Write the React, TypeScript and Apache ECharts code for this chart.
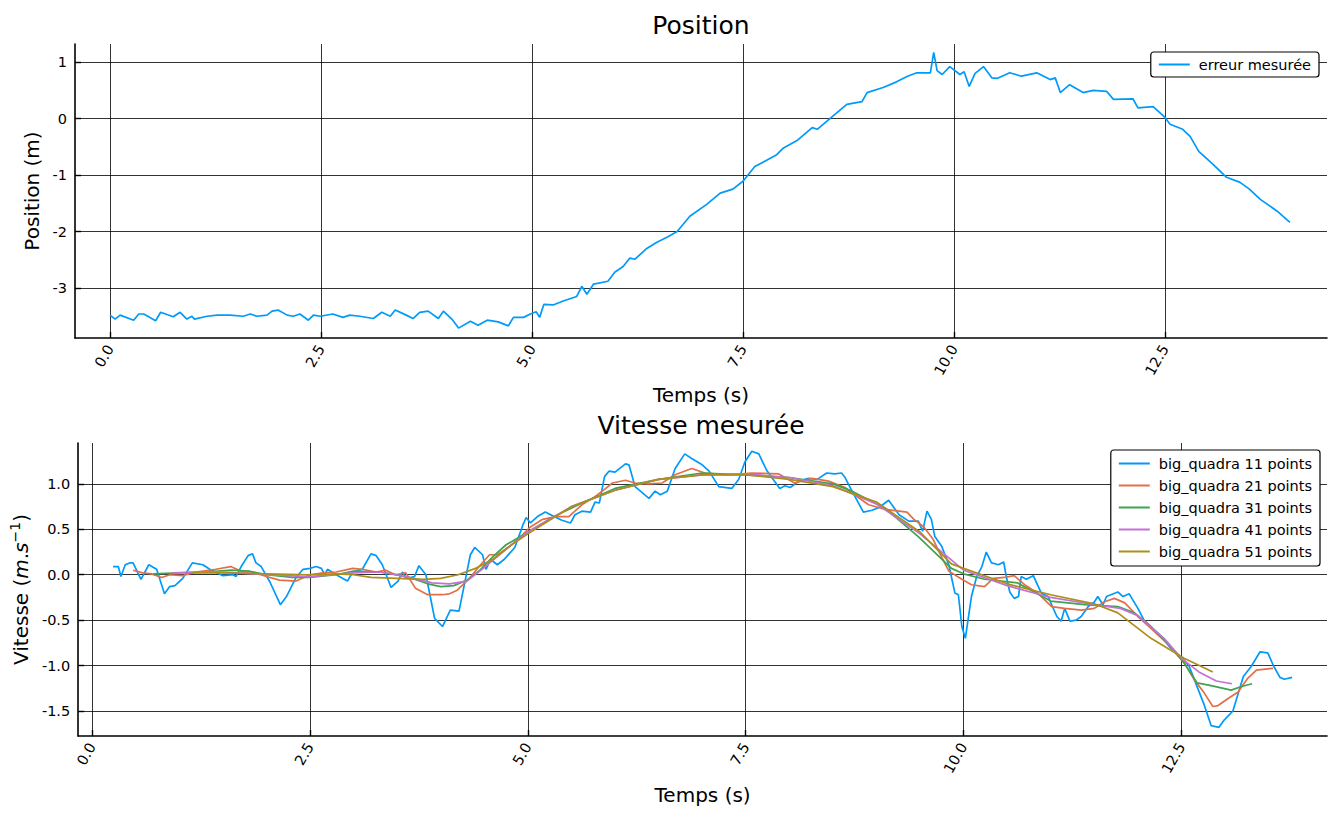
import React, { useEffect, useRef } from "react";
import * as echarts from "echarts";

const FONT = "DejaVu Sans";

const position: [number, number][] = [
  [0,-3.48],[0.06,-3.55],[0.12,-3.48],[0.28,-3.57],[0.34,-3.46],[0.4,-3.46],[0.54,-3.58],[0.6,-3.43],[0.75,-3.51],[0.83,-3.43],[0.91,-3.55],[0.97,-3.5],[1.0,-3.55],[1.15,-3.5],[1.27,-3.48],[1.42,-3.48],[1.58,-3.5],[1.66,-3.46],[1.74,-3.5],[1.86,-3.48],[1.92,-3.41],[1.99,-3.39],[2.1,-3.48],[2.17,-3.5],[2.25,-3.46],[2.35,-3.57],[2.41,-3.48],[2.49,-3.5],[2.64,-3.46],[2.76,-3.52],[2.84,-3.48],[2.96,-3.5],[3.12,-3.54],[3.22,-3.43],[3.32,-3.5],[3.38,-3.39],[3.51,-3.48],[3.59,-3.54],[3.67,-3.43],[3.77,-3.41],[3.89,-3.54],[3.95,-3.41],[4.05,-3.55],[4.13,-3.71],[4.27,-3.59],[4.36,-3.66],[4.47,-3.57],[4.6,-3.6],[4.72,-3.67],[4.78,-3.52],[4.9,-3.52],[4.98,-3.46],[5.05,-3.42],[5.09,-3.52],[5.14,-3.29],[5.25,-3.3],[5.37,-3.23],[5.53,-3.15],[5.59,-2.97],[5.65,-3.11],[5.73,-2.93],[5.9,-2.88],[5.98,-2.72],[6.08,-2.62],[6.16,-2.47],[6.22,-2.49],[6.36,-2.3],[6.48,-2.19],[6.6,-2.1],[6.72,-2.0],[6.87,-1.73],[7.07,-1.52],[7.23,-1.32],[7.38,-1.25],[7.5,-1.11],[7.64,-0.85],[7.78,-0.74],[7.9,-0.64],[7.98,-0.52],[8.14,-0.39],[8.32,-0.16],[8.38,-0.19],[8.53,0.0],[8.73,0.25],[8.91,0.3],[8.97,0.46],[9.16,0.55],[9.32,0.65],[9.45,0.75],[9.56,0.81],[9.72,0.81],[9.76,1.17],[9.8,0.85],[9.86,0.78],[9.95,0.92],[10.07,0.78],[10.12,0.83],[10.18,0.57],[10.25,0.8],[10.35,0.92],[10.45,0.72],[10.51,0.71],[10.66,0.81],[10.8,0.75],[10.98,0.81],[11.14,0.69],[11.2,0.72],[11.26,0.46],[11.37,0.6],[11.53,0.46],[11.65,0.5],[11.81,0.48],[11.89,0.34],[12.12,0.35],[12.18,0.19],[12.36,0.21],[12.5,0.02],[12.56,-0.1],[12.71,-0.19],[12.8,-0.32],[12.9,-0.58],[13.07,-0.81],[13.23,-1.04],[13.39,-1.13],[13.5,-1.25],[13.63,-1.43],[13.83,-1.64],[13.98,-1.84]
];

const quadra11: [number, number][] = [
  [0.24,0.09],[0.3,0.09],[0.33,-0.02],[0.38,0.11],[0.43,0.13],[0.47,0.13],[0.56,-0.05],[0.65,0.11],[0.74,0.06],[0.83,-0.21],[0.89,-0.13],[0.95,-0.12],[1.04,-0.04],[1.15,0.13],[1.27,0.11],[1.35,0.06],[1.5,-0.01],[1.62,0.0],[1.65,-0.02],[1.71,0.09],[1.79,0.21],[1.84,0.23],[1.88,0.13],[1.94,0.09],[2.04,-0.08],[2.16,-0.33],[2.23,-0.24],[2.34,-0.03],[2.42,0.06],[2.5,0.07],[2.57,0.09],[2.63,0.07],[2.67,0.0],[2.7,0.06],[2.8,0.0],[2.93,-0.07],[2.99,0.03],[3.1,0.06],[3.2,0.23],[3.26,0.21],[3.33,0.11],[3.43,-0.14],[3.51,-0.07],[3.56,0.03],[3.61,-0.04],[3.7,-0.02],[3.75,0.1],[3.83,0.0],[3.93,-0.48],[4.02,-0.57],[4.11,-0.39],[4.21,-0.4],[4.34,0.22],[4.39,0.3],[4.48,0.22],[4.52,0.06],[4.57,0.17],[4.65,0.11],[4.73,0.17],[4.85,0.3],[4.94,0.54],[4.98,0.63],[5.03,0.57],[5.11,0.64],[5.2,0.69],[5.3,0.64],[5.39,0.6],[5.49,0.57],[5.54,0.66],[5.62,0.7],[5.72,0.69],[5.77,0.8],[5.82,0.79],[5.88,1.08],[5.93,1.14],[6.0,1.13],[6.12,1.22],[6.16,1.21],[6.23,0.97],[6.39,0.84],[6.46,0.92],[6.52,0.88],[6.6,0.92],[6.69,1.17],[6.8,1.33],[6.88,1.28],[7.0,1.21],[7.08,1.14],[7.19,0.97],[7.34,0.95],[7.42,1.05],[7.49,1.24],[7.57,1.36],[7.65,1.33],[7.74,1.15],[7.89,0.95],[7.95,0.98],[8.01,0.96],[8.11,1.03],[8.22,1.06],[8.32,1.05],[8.43,1.12],[8.52,1.11],[8.6,1.12],[8.64,1.07],[8.72,0.92],[8.85,0.69],[8.95,0.71],[9.03,0.74],[9.14,0.82],[9.26,0.66],[9.37,0.59],[9.48,0.59],[9.53,0.48],[9.58,0.7],[9.63,0.61],[9.67,0.42],[9.75,0.31],[9.83,0.11],[9.9,-0.2],[9.94,-0.22],[9.98,-0.57],[10.02,-0.7],[10.09,-0.24],[10.15,-0.02],[10.21,0.09],[10.26,0.25],[10.32,0.13],[10.4,0.11],[10.46,0.14],[10.49,-0.02],[10.53,-0.19],[10.58,-0.26],[10.63,-0.24],[10.66,-0.02],[10.72,-0.05],[10.8,-0.01],[10.89,-0.2],[10.97,-0.24],[11.07,-0.46],[11.12,-0.51],[11.16,-0.37],[11.22,-0.51],[11.29,-0.5],[11.35,-0.46],[11.43,-0.35],[11.5,-0.3],[11.54,-0.24],[11.6,-0.33],[11.64,-0.24],[11.77,-0.19],[11.83,-0.24],[11.9,-0.21],[12.0,-0.37],[12.07,-0.5],[12.19,-0.61],[12.27,-0.68],[12.36,-0.79],[12.44,-0.86],[12.53,-0.94],[12.59,-1.01],[12.67,-1.21],[12.76,-1.43],[12.84,-1.66],[12.93,-1.68],[12.99,-1.6],[13.09,-1.5],[13.15,-1.31],[13.21,-1.12],[13.3,-1.01],[13.4,-0.85],[13.49,-0.86],[13.56,-1.01],[13.63,-1.13],[13.68,-1.15],[13.77,-1.13]
];

const quadra21: [number, number][] = [
  [0.47,0.05],[0.58,0.02],[0.68,0.01],[0.8,-0.03],[0.89,0.0],[1.04,-0.01],[1.19,0.03],[1.42,0.06],[1.59,0.09],[1.73,0.03],[1.84,0.03],[2.0,-0.02],[2.15,-0.06],[2.34,-0.07],[2.5,0.0],[2.65,0.02],[2.8,0.03],[2.99,0.07],[3.1,0.06],[3.26,0.03],[3.37,0.05],[3.48,0.0],[3.6,0.02],[3.71,-0.15],[3.85,-0.22],[4.02,-0.22],[4.1,-0.21],[4.19,-0.17],[4.33,-0.04],[4.44,0.09],[4.56,0.22],[4.65,0.22],[4.79,0.31],[4.94,0.44],[5.02,0.52],[5.17,0.61],[5.32,0.64],[5.47,0.64],[5.62,0.77],[5.77,0.86],[5.88,0.94],[5.97,1.01],[6.12,1.04],[6.23,1.01],[6.39,1.0],[6.54,1.01],[6.69,1.1],[6.88,1.17],[7.03,1.12],[7.3,1.1],[7.57,1.12],[7.88,1.11],[8.06,1.01],[8.26,1.06],[8.45,1.03],[8.64,0.96],[8.72,0.9],[8.91,0.77],[9.1,0.72],[9.35,0.69],[9.43,0.61],[9.54,0.53],[9.65,0.39],[9.75,0.19],[9.83,0.04],[9.98,-0.05],[10.09,-0.11],[10.24,-0.13],[10.34,-0.04],[10.47,-0.03],[10.58,-0.01],[10.7,-0.11],[10.86,-0.21],[11.01,-0.35],[11.16,-0.37],[11.35,-0.39],[11.5,-0.37],[11.61,-0.3],[11.73,-0.26],[11.85,-0.31],[12.0,-0.46],[12.15,-0.59],[12.35,-0.77],[12.53,-0.97],[12.65,-1.16],[12.76,-1.3],[12.86,-1.45],[12.92,-1.44],[13.04,-1.36],[13.15,-1.29],[13.26,-1.14],[13.36,-1.05],[13.55,-1.03]
];

const quadra31: [number, number][] = [
  [0.7,0.01],[1.0,0.02],[1.3,0.03],[1.6,0.05],[1.8,0.04],[2.0,0.0],[2.3,-0.03],[2.5,-0.03],[2.8,0.0],[3.0,0.04],[3.3,0.03],[3.5,0.0],[3.7,-0.05],[3.85,-0.1],[4.0,-0.13],[4.15,-0.12],[4.3,-0.06],[4.45,0.05],[4.6,0.2],[4.75,0.33],[4.86,0.39],[5.0,0.47],[5.3,0.64],[5.6,0.78],[6.0,0.95],[6.5,1.05],[7.0,1.12],[7.5,1.1],[8.0,1.07],[8.5,1.0],[8.72,0.92],[9.1,0.73],[9.48,0.42],[9.86,0.07],[10.0,0.01],[10.24,-0.05],[10.62,-0.09],[11.0,-0.29],[11.39,-0.33],[11.77,-0.35],[11.96,-0.42],[12.15,-0.57],[12.35,-0.76],[12.53,-0.97],[12.68,-1.19],[12.84,-1.22],[13.07,-1.27],[13.19,-1.23],[13.31,-1.2]
];

const quadra41: [number, number][] = [
  [0.92,0.02],[1.2,0.03],[1.5,0.03],[2.0,0.0],[2.5,-0.02],[3.0,0.02],[3.3,0.03],[3.6,-0.02],[3.9,-0.09],[4.1,-0.1],[4.3,-0.07],[4.5,0.08],[4.8,0.32],[5.0,0.47],[5.5,0.75],[6.0,0.93],[6.5,1.05],[7.0,1.1],[7.5,1.11],[8.0,1.07],[8.5,0.98],[9.0,0.78],[9.5,0.45],[10.0,0.05],[10.5,-0.12],[11.0,-0.25],[11.5,-0.33],[11.8,-0.37],[12.0,-0.45],[12.3,-0.7],[12.5,-0.92],[12.7,-1.07],[12.9,-1.17],[13.08,-1.2]
];

const quadra51: [number, number][] = [
  [1.15,0.02],[1.5,0.02],[2.0,0.01],[2.5,0.0],[2.8,0.01],[3.0,0.0],[3.2,-0.03],[3.5,-0.04],[3.8,-0.05],[4.0,-0.04],[4.2,0.0],[4.4,0.07],[4.6,0.17],[4.8,0.32],[5.0,0.45],[5.5,0.75],[6.0,0.93],[6.5,1.05],[7.0,1.1],[7.5,1.1],[8.0,1.05],[8.5,0.97],[9.0,0.8],[9.5,0.47],[9.86,0.12],[10.0,0.07],[10.5,-0.1],[11.0,-0.22],[11.5,-0.32],[11.77,-0.42],[12.15,-0.7],[12.53,-0.92],[12.86,-1.07]
];

const velocitySeries = [
  { name: "big_quadra 11 points", data: quadra11, color: "#009AFA" },
  { name: "big_quadra 21 points", data: quadra21, color: "#E36F47" },
  { name: "big_quadra 31 points", data: quadra31, color: "#3EA44E" },
  { name: "big_quadra 41 points", data: quadra41, color: "#C371D2" },
  { name: "big_quadra 51 points", data: quadra51, color: "#AC8E18" },
];

const timeTicks = [0, 2.5, 5, 7.5, 10, 12.5];
const positionTicks = [-3, -2, -1, 0, 1];
const velocityTicks = [-1.5, -1, -0.5, 0, 0.5, 1];

const TICK_FONT = 14.5;

function xAxis(gridIndex: number, min: number, max: number) {
  return {
    type: "value",
    gridIndex,
    min,
    max,
    name: "Temps (s)",
    nameLocation: "middle",
    nameGap: gridIndex === 0 ? 47 : 49,
    nameTextStyle: { fontFamily: FONT, fontSize: 20, color: "#000" },
    axisLine: { show: true, onZero: false, lineStyle: { color: "#000", width: 1.6 } },
    axisTick: { show: true, inside: true, length: 6, customValues: timeTicks, lineStyle: { color: "#000", width: 1.4 } },
    axisLabel: {
      customValues: timeTicks,
      rotate: 60,
      margin: 8,
      fontFamily: FONT,
      fontSize: TICK_FONT,
      color: "#000",
      formatter: (v: number) => v.toFixed(1),
    },
    splitLine: { show: true, lineStyle: { color: "rgba(0,0,0,0.8)", width: 1 } },
  };
}

function yAxis(gridIndex: number, min: number, max: number, ticks: number[], digits: number, name: string, nameGap: number, rich?: any) {
  return {
    type: "value",
    gridIndex,
    min,
    max,
    name,
    nameLocation: "middle",
    nameGap,
    nameTextStyle: { fontFamily: FONT, fontSize: 20, color: "#000", rich },
    axisLine: { show: true, onZero: false, lineStyle: { color: "#000", width: 1.6 } },
    axisTick: { show: true, inside: true, length: 6, customValues: ticks, lineStyle: { color: "#000", width: 1.4 } },
    axisLabel: {
      customValues: ticks,
      margin: 8,
      fontFamily: FONT,
      fontSize: TICK_FONT,
      color: "#000",
      formatter: (v: number) => v.toFixed(digits),
    },
    splitLine: { show: true, lineStyle: { color: "rgba(0,0,0,0.8)", width: 1 } },
  };
}

export default function App() {
  const ref = useRef<HTMLDivElement>(null);
  useEffect(() => {
    if (!ref.current) return;
    const chart = echarts.init(ref.current, undefined, { renderer: "svg" });
    const legendCommon = {
      orient: "vertical",
      backgroundColor: "#fff",
      borderColor: "#000",
      borderWidth: 1.2,
      borderRadius: 3,
      icon: "rect",
      itemWidth: 31,
      itemHeight: 2,
      itemGap: 7,
      textStyle: { fontFamily: FONT, fontSize: 14.5, lineHeight: 15, color: "#000", padding: [0, 0, 0, 4] },
      selectedMode: false,
    };
    const titleStyle = { fontFamily: FONT, fontSize: 25, fontWeight: "normal", color: "#000" };
    chart.setOption({
      animation: false,
      backgroundColor: "#fff",
      title: [
        { text: "Position", left: 701, textAlign: "center", top: 13, padding: 0, textStyle: titleStyle },
        { text: "Vitesse mesurée", left: 701, textAlign: "center", top: 413, padding: 0, textStyle: titleStyle },
      ],
      legend: [
        { ...legendCommon, data: ["erreur mesurée"], right: 14, top: 52, padding: [5, 8, 5, 8] },
        { ...legendCommon, data: velocitySeries.map((s) => s.name), right: 13, top: 450, padding: [6, 8, 7, 8] },
      ],
      grid: [
        { left: 75, right: 6, top: 44, height: 294 },
        { left: 75, right: 6, top: 443, height: 293 },
      ],
      xAxis: [xAxis(0, -0.415, 14.42), xAxis(1, -0.16, 14.17)],
      yAxis: [
        yAxis(0, -3.885, 1.32, positionTicks, 0, "Position (m)", 30),
        yAxis(1, -1.775, 1.45, velocityTicks, 1, "{n|Vitesse (}{i|m}{n|.}{i|s}{sup|−1}{n|)}", 40, {
          n: { fontFamily: FONT, fontSize: 20, color: "#000", lineHeight: 26 },
          i: { fontFamily: FONT, fontSize: 20, fontStyle: "italic", color: "#000", lineHeight: 26 },
          sup: { fontFamily: FONT, fontSize: 14, color: "#000", verticalAlign: "top", lineHeight: 26 },
        }),
      ],
      series: [
        {
          type: "line",
          name: "erreur mesurée",
          xAxisIndex: 0,
          yAxisIndex: 0,
          data: position,
          symbol: "none",
          color: "#009AFA",
          lineStyle: { width: 1.7, color: "#009AFA" },
        },
        ...velocitySeries.map((s) => ({
          type: "line",
          name: s.name,
          xAxisIndex: 1,
          yAxisIndex: 1,
          data: s.data,
          symbol: "none",
          color: s.color,
          lineStyle: { width: 1.7, color: s.color },
        })),
      ],
    });
    return () => chart.dispose();
  }, []);
  return <div ref={ref} style={{ position: "fixed", left: 0, top: 0, width: 1333, height: 813 }} />;
}
